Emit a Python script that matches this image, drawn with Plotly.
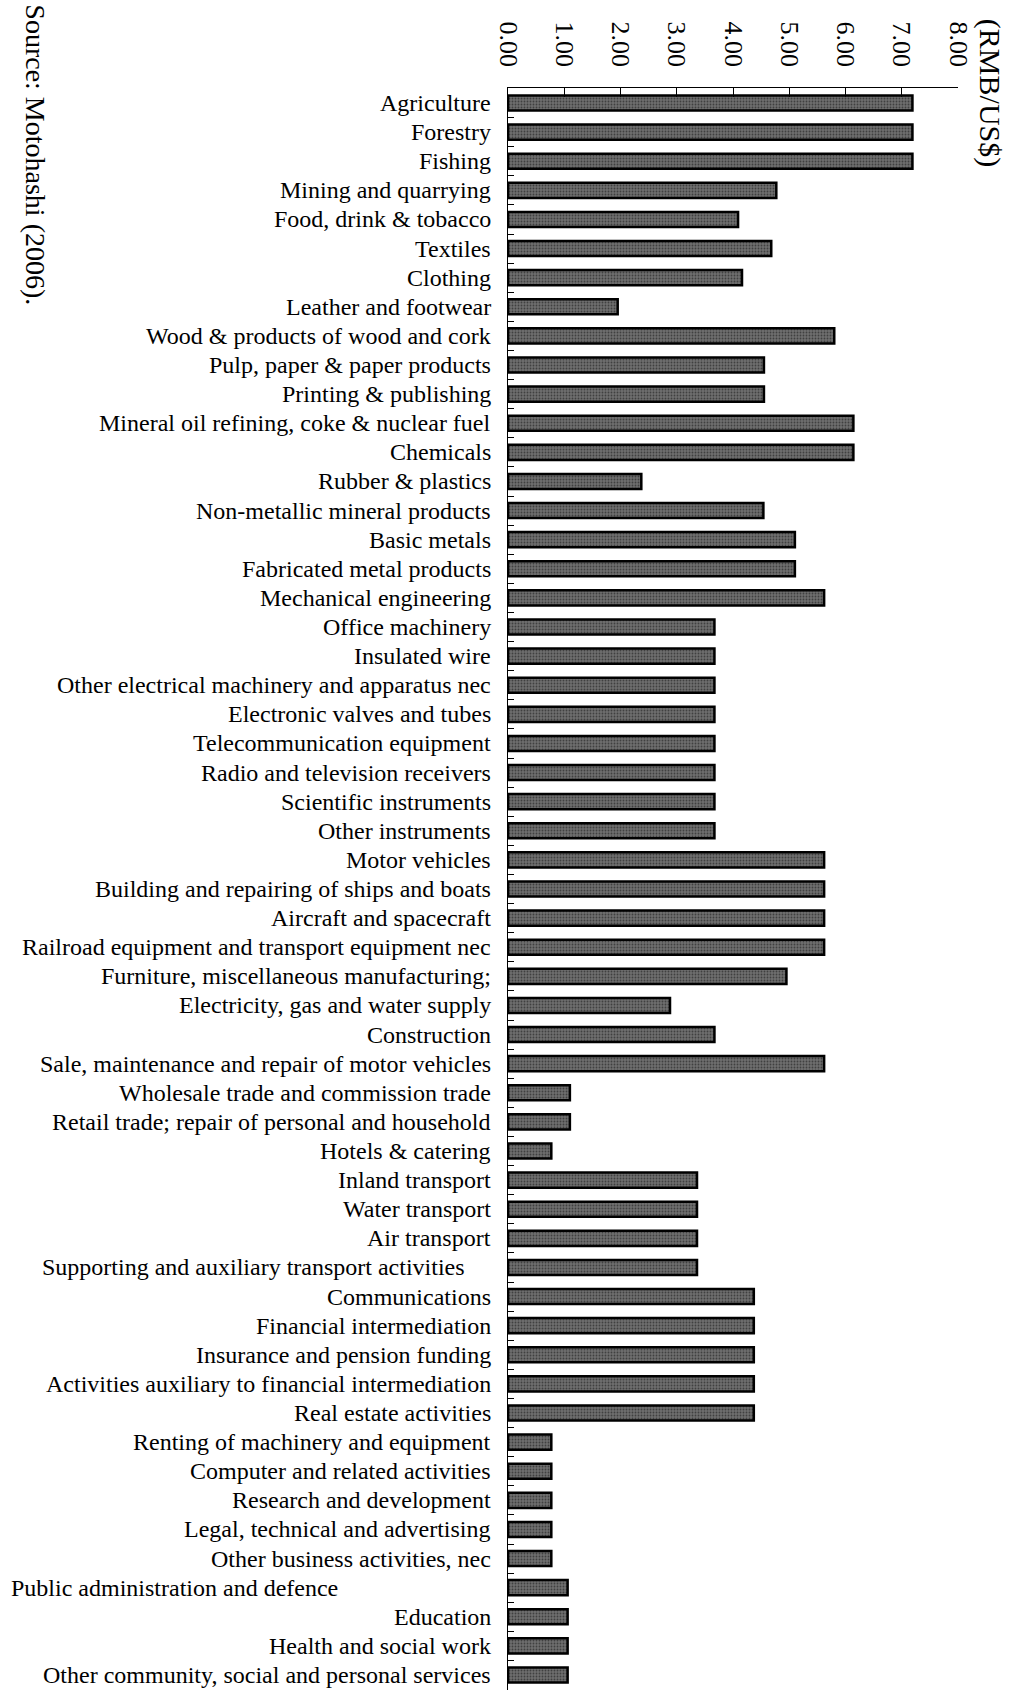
import plotly.graph_objects as go

categories = [
    "Agriculture", "Forestry", "Fishing", "Mining and quarrying",
    "Food, drink & tobacco", "Textiles", "Clothing", "Leather and footwear",
    "Wood & products of wood and cork", "Pulp, paper & paper products",
    "Printing & publishing", "Mineral oil refining, coke & nuclear fuel",
    "Chemicals", "Rubber & plastics", "Non-metallic mineral products",
    "Basic metals", "Fabricated metal products", "Mechanical engineering",
    "Office machinery", "Insulated wire",
    "Other electrical machinery and apparatus nec",
    "Electronic valves and tubes", "Telecommunication equipment",
    "Radio and television receivers", "Scientific instruments",
    "Other instruments", "Motor vehicles",
    "Building and repairing of ships and boats", "Aircraft and spacecraft",
    "Railroad equipment and transport equipment nec",
    "Furniture, miscellaneous manufacturing;",
    "Electricity, gas and water supply", "Construction",
    "Sale, maintenance and repair of motor vehicles",
    "Wholesale trade and commission trade",
    "Retail trade; repair of personal and household",
    "Hotels & catering", "Inland transport", "Water transport",
    "Air transport", "Supporting and auxiliary transport activities",
    "Communications", "Financial intermediation",
    "Insurance and pension funding",
    "Activities auxiliary to financial intermediation",
    "Real estate activities", "Renting of machinery and equipment",
    "Computer and related activities", "Research and development",
    "Legal, technical and advertising", "Other business activities, nec",
    "Public administration and defence", "Education",
    "Health and social work",
    "Other community, social and personal services",
]

values = [
    7.19, 7.19, 7.19, 4.77,
    4.09, 4.68, 4.16, 1.95,
    5.80, 4.55,
    4.55, 6.14,
    6.14, 2.37, 4.54,
    5.10, 5.10, 5.62,
    3.67, 3.67,
    3.67,
    3.67, 3.67,
    3.67, 3.67,
    3.67, 5.62,
    5.62, 5.62,
    5.62,
    4.95,
    2.88, 3.67,
    5.62,
    1.10,
    1.10,
    0.77, 3.36, 3.36,
    3.36, 3.36,
    4.37, 4.37,
    4.37,
    4.37,
    4.37, 0.77,
    0.77, 0.77,
    0.77, 0.77,
    1.06, 1.06,
    1.06,
    1.06,
]

x_ticks = [0, 1, 2, 3, 4, 5, 6, 7, 8]
unit_label = "(RMB/US$)"
source_note = "Source: Motohashi (2006)."

FONT = "Liberation Serif"

# label horizontal shifts (styling only)
default_shift = -15
special_shift = {
    "Supporting and auxiliary transport activities": -41,
    "Public administration and defence": -168,
}

fig = go.Figure()
fig.add_trace(go.Bar(
    y=categories,
    x=values,
    orientation="h",
    width=0.52,
    marker=dict(
        color="#5c5c5c",
        line=dict(color="#000000", width=2.5),
        pattern=dict(shape=".", fgcolor="#111111", bgcolor="#6e6e6e",
                     size=3, solidity=0.3),
    ),
    showlegend=False,
))

annotations = []
for c in categories:
    annotations.append(dict(
        x=0, y=c, xref="x", yref="y",
        text=c, showarrow=False, xanchor="right", yanchor="middle",
        xshift=special_shift.get(c, default_shift),
        font=dict(family=FONT, size=24, color="#000000"),
    ))

annotations.append(dict(
    x=1.071, y=0.997, xref="paper", yref="paper",
    text=unit_label, showarrow=False, textangle=90,
    xanchor="center", yanchor="middle",
    font=dict(family=FONT, size=30, color="#000000"),
))
annotations.append(dict(
    x=-1.049, y=0.958, xref="paper", yref="paper",
    text=source_note, showarrow=False, textangle=90,
    xanchor="center", yanchor="middle",
    font=dict(family=FONT, size=28, color="#000000"),
))

fig.update_layout(
    width=1009, height=1694,
    margin=dict(l=508, r=51, t=88, b=4, pad=0),
    paper_bgcolor="#ffffff", plot_bgcolor="#ffffff",
    font=dict(family=FONT, color="#000000"),
    annotations=annotations,
    bargap=0.48,
)

fig.update_xaxes(
    side="top", range=[0, 8], tickvals=x_ticks, tickformat=".2f",
    tickangle=90, ticks="inside", ticklen=9, tickcolor="#000000",
    tickwidth=1, showline=True, linecolor="#000000", linewidth=1,
    showgrid=False, zeroline=False, ticklabelstandoff=11,
    tickfont=dict(family=FONT, size=26, color="#000000"),
)
fig.update_yaxes(
    autorange="reversed", showticklabels=False, ticks="inside",
    tickson="boundaries", ticklen=6, tickcolor="#000000", tickwidth=1,
    showline=True, linecolor="#000000", linewidth=1, showgrid=False,
    zeroline=False,
)

fig.write_html(
    "out.html",
    config={"displayModeBar": False},
    post_script="document.body.style.margin='0';document.body.style.overflow='hidden';",
)
